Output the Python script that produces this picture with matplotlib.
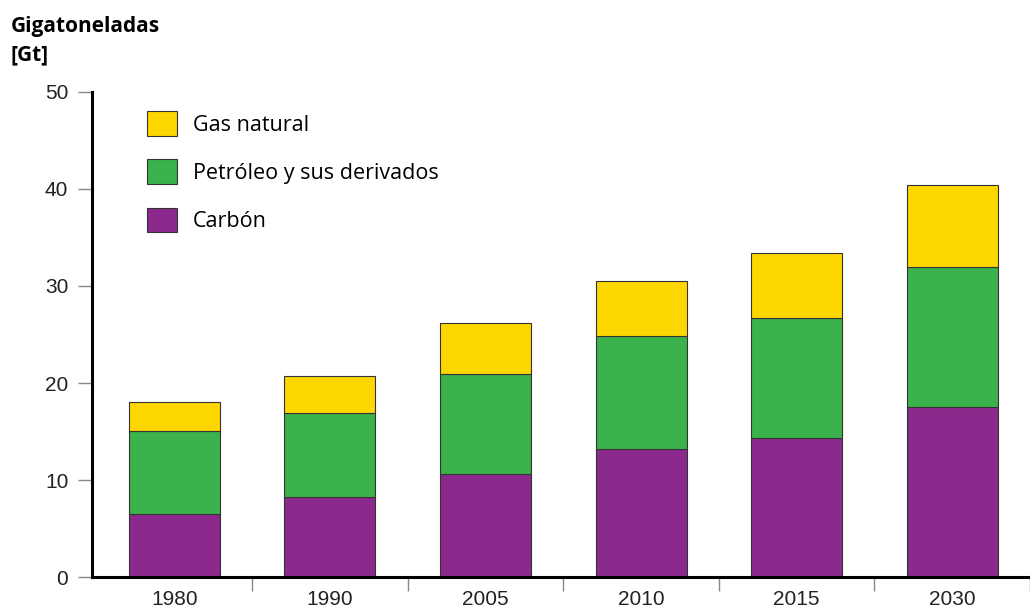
import numpy as np
import matplotlib
matplotlib.use('Agg')
import matplotlib.pyplot as plt

years = ['1980', '1990', '2005', '2010', '2015', '2030']
carbon = [6.5, 8.2, 10.6, 13.2, 14.3, 17.5]
petroleo = [8.6, 8.7, 10.3, 11.6, 12.4, 14.5]
gas = [2.9, 3.8, 5.3, 5.7, 6.7, 8.4]

labels = ['Carbón', 'Petróleo y sus derivados', 'Gas natural']
colors = ['#8B2A8C', '#3BB24C', '#FFD700']

fig = plt.figure(figsize=(10.3, 6.09), dpi=100)
ax = fig.add_axes([0.0893, 0.0525, 0.9107, 0.7965])

x = np.arange(len(years))
w = 0.585
bottom = np.zeros(len(years))
handles = []
for vals, lab, col in zip([carbon, petroleo, gas], labels, colors):
    b = ax.bar(x, vals, w, bottom=bottom, color=col, edgecolor='#333333',
               linewidth=0.8, label=lab)
    handles.append(b)
    bottom += np.array(vals)

ax.set_ylim(0, 50)
ax.set_xlim(-0.53, 5.37)
ax.set_yticks([0, 10, 20, 30, 40, 50])

# category labels centered, separator ticks between groups
ax.set_xticks(x + 0.5, minor=False)
ax.set_xticklabels([])
ax.set_xticks(x, minor=True)
ax.set_xticklabels(years, minor=True)
ax.tick_params(axis='x', which='major', length=10, width=1, color='#888888',
               direction='out')
ax.tick_params(axis='x', which='minor', length=0, pad=9, labelsize=15,
               labelcolor='#222222')
ax.tick_params(axis='y', length=10, width=1, color='#888888', pad=7,
               labelsize=15, labelcolor='#222222')
for t in ax.get_xticklabels(minor=True) + ax.get_yticklabels():
    t.set_fontfamily('Liberation Sans')

for s in ['top', 'right']:
    ax.spines[s].set_visible(False)
for s in ['left', 'bottom']:
    ax.spines[s].set_linewidth(2.2)
    ax.spines[s].set_color('black')

leg = ax.legend(handles[::-1], labels[::-1], loc='upper left',
                bbox_to_anchor=(0.0586, 0.96), frameon=False, borderpad=0,
                borderaxespad=0,
                handlelength=1.4, handleheight=1.4, labelspacing=1.08,
                handletextpad=0.75,
                prop={'family': 'Open Sans', 'size': 15.5})

fig.text(0.01, 0.957, 'Gigatoneladas', fontsize=15, fontweight='bold',
         fontfamily='Open Sans', va='center', ha='left')
fig.text(0.01, 0.91, '[Gt]', fontsize=15, fontweight='bold',
         fontfamily='Open Sans', va='center', ha='left')

fig.savefig('out.png', dpi=100)
